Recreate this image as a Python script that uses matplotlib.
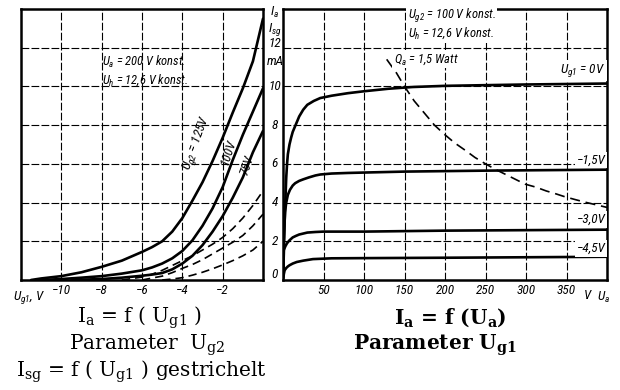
import matplotlib
matplotlib.use("Agg")
import matplotlib.pyplot as plt
from matplotlib import font_manager as fm
import matplotlib.transforms as mtrans

# ---------------- data ----------------
# Left panel: Ia = f(Ug1), parameter Ug2 (solid), Isg dashed
ug1_125 = [-11.5, -11, -10, -9, -8, -7, -6, -5.5, -5, -4.5, -4, -3.5, -3, -2.5, -2, -1.5, -1, -0.5, 0]
ia_125 = [0, 0.08, 0.2, 0.4, 0.68, 1.0, 1.45, 1.7, 2.0, 2.5, 3.2, 4.1, 5.05, 6.15, 7.35, 8.65, 9.9, 11.3, 13.5]
ug1_100 = [-11, -10, -9, -8, -7, -6, -5.5, -5, -4.5, -4, -3.5, -3, -2.5, -2, -1.5, -1, -0.5, 0]
ia_100 = [0, 0.05, 0.12, 0.2, 0.33, 0.5, 0.65, 0.85, 1.12, 1.5, 2.05, 2.8, 3.7, 4.8, 6.2, 7.5, 8.7, 9.9]
ug1_75 = [-9.5, -8, -7, -6, -5.5, -5, -4.5, -4, -3.5, -3, -2.5, -2, -1.5, -1, -0.5, 0]
ia_75 = [0, 0.05, 0.12, 0.22, 0.28, 0.36, 0.55, 0.85, 1.25, 1.8, 2.5, 3.3, 4.25, 5.3, 6.6, 7.7]
ug1_sg125 = [-7, -6, -5.5, -5, -4.5, -4, -3.5, -3, -2.5, -2, -1.5, -1, -0.5, 0]
isg_125 = [0, 0.15, 0.3, 0.5, 0.75, 1.0, 1.25, 1.55, 1.85, 2.2, 2.65, 3.2, 3.85, 4.6]
ug1_sg100 = [-6, -5.5, -5, -4.5, -4, -3.5, -3, -2.5, -2, -1.5, -1, -0.5, 0]
isg_100 = [0, 0.1, 0.2, 0.38, 0.6, 0.8, 1.05, 1.35, 1.65, 1.95, 2.3, 2.8, 3.4]
ug1_sg75 = [-5, -4.5, -4, -3.5, -3, -2.5, -2, -1.5, -1, -0.5, 0]
isg_75 = [0, 0.05, 0.12, 0.25, 0.4, 0.58, 0.78, 1.0, 1.25, 1.55, 2.0]

# Right panel: Ia = f(Ua), parameter Ug1
ua_0 = [0.5, 1, 2, 3, 4, 5, 6, 8, 10, 12, 15, 20, 25, 30, 38, 46, 60, 80, 100, 130, 160, 200, 300, 400]
ia_0 = [0.3, 1.5, 3.0, 4.2, 5.3, 6.0, 6.5, 7.0, 7.35, 7.65, 7.95, 8.45, 8.8, 9.05, 9.25, 9.4,
        9.52, 9.65, 9.75, 9.88, 9.97, 10.03, 10.1, 10.15]
ua_m15 = [0.5, 1, 2.5, 4, 6, 8.6, 12, 15, 20, 25, 32, 40, 46, 60, 80, 99, 150, 250, 400]
ia_m15 = [0.3, 2.0, 3.5, 4.0, 4.4, 4.66, 4.88, 5.0, 5.12, 5.2, 5.3, 5.4, 5.45, 5.5, 5.53,
          5.55, 5.6, 5.65, 5.7]
ua_m30 = [0.5, 1, 3, 5, 8, 12, 16, 20, 25, 30, 40, 50, 100, 200, 400]
ia_m30 = [0.3, 1.55, 1.75, 1.9, 2.05, 2.2, 2.28, 2.35, 2.4, 2.45, 2.48, 2.5, 2.5, 2.55, 2.6]
ua_m45 = [0.5, 1, 2, 4, 6, 8, 12, 17, 25, 37, 60, 100, 200, 400]
ia_m45 = [0.1, 0.3, 0.5, 0.62, 0.7, 0.76, 0.85, 0.93, 1.0, 1.08, 1.12, 1.13, 1.15, 1.2]
ua_qa = [128, 140, 150, 162, 175, 187, 200, 212, 225, 237, 250, 262, 275, 287, 299, 312,
         325, 337, 348, 362, 375, 387, 400]
ia_qa = [11.4, 10.7, 10.0, 9.25, 8.6, 8.0, 7.5, 7.08, 6.7, 6.33, 6.0, 5.72, 5.45, 5.2,
         4.95, 4.8, 4.6, 4.45, 4.3, 4.14, 4.0, 3.88, 3.75]

left_xticks = [-10, -8, -6, -4, -2]
left_xticklabels = ["−10", "−8", "−6", "−4", "−2"]
right_xticks = [50, 100, 150, 200, 250, 300, 350]
right_xticklabels = ["50", "100", "150", "200", "250", "300", "350"]
y_grid = [2, 4, 6, 8, 10, 12]
y_ticklabels = ["0", "2", "4", "6", "8", "10", "12"]
y_tickvals = [0.3, 2, 4, 6, 8, 10, 12.2]

# ---------------- fonts ----------------
names = {f.name for f in fm.fontManager.ttflist}
HAND = "DejaVu Sans"
for cand in ["Liberation Sans Narrow", "Roboto Condensed", "DejaVu Sans Condensed"]:
    if cand in names:
        HAND = cand
        break
SERIF = "DejaVu Serif"
plt.rcParams["font.family"] = HAND

hand = dict(family=HAND, style="italic", color="black")

fig = plt.figure(figsize=(6.2, 3.9), dpi=100)
fig.patch.set_facecolor("white")
axL = fig.add_axes([21 / 620, 110 / 390, 242 / 620, 271 / 390])
axR = fig.add_axes([283 / 620, 110 / 390, 324 / 620, 271 / 390])

grid_kw = dict(color="black", lw=0.8, ls=(0, (7, 2)), zorder=1)
for ax in (axL, axR):
    for s in ax.spines.values():
        s.set_linewidth(1.8)
    ax.set_ylim(0, 14)
    ax.tick_params(length=0)
    ax.set_yticks([])
    for y in y_grid:
        ax.axhline(y, **grid_kw)

TS = 9.5   # tick label size
LS = 9.0   # annotation size

# ---- left panel ----
axL.set_xlim(-12, 0)
for x in left_xticks:
    axL.axvline(x, **grid_kw)
axL.set_xticks(left_xticks)
axL.set_xticklabels(left_xticklabels, fontsize=TS, fontstyle="italic", family=HAND)
axL.tick_params(axis="x", pad=3)
solid_kw = dict(color="black", lw=1.9, zorder=3, solid_capstyle="round", solid_joinstyle="round")
dash_kw = dict(color="black", lw=1.2, ls=(0, (5, 3)), zorder=3)
axL.plot(ug1_125, ia_125, **solid_kw)
axL.plot(ug1_100, ia_100, **solid_kw)
axL.plot(ug1_75, ia_75, **solid_kw)
axL.plot(ug1_sg125, isg_125, **dash_kw)
axL.plot(ug1_sg100, isg_100, **dash_kw)
axL.plot(ug1_sg75, isg_75, **dash_kw)

axL.text(-8.0, 11.25, r"U$_\mathregular{a}$ = 200 V konst.", fontsize=LS, va="center", **hand)
axL.text(-8.0, 10.3, r"U$_\mathregular{h}$ = 12,6 V konst.", fontsize=LS, va="center", **hand)
axL.text(-3.3, 7.1, r"U$_\mathregular{g2}$ = 125V", fontsize=9.5, rotation=70,
         ha="center", va="center", **hand)
axL.text(-1.75, 6.6, "100V", fontsize=9.5, rotation=72, ha="center", va="center", **hand)
axL.text(-0.8, 5.9, "75V", fontsize=9.5, rotation=72, ha="center", va="center", **hand)
tL = mtrans.blended_transform_factory(axL.transData, axL.transAxes)
axL.text(-10.8, -0.035, r"U$_\mathregular{g1}$, V", fontsize=TS, ha="right", va="top",
         transform=tL, **hand)

# ---- right panel ----
axR.set_xlim(0, 400)
for x in right_xticks:
    axR.axvline(x, **grid_kw)
axR.set_xticks(right_xticks)
axR.set_xticklabels(right_xticklabels, fontsize=TS, fontstyle="italic", family=HAND)
axR.tick_params(axis="x", pad=3)
axR.plot(ua_0, ia_0, **solid_kw)
axR.plot(ua_m15, ia_m15, **solid_kw)
axR.plot(ua_m30, ia_m30, **solid_kw)
axR.plot(ua_m45, ia_m45, **solid_kw)
axR.plot(ua_qa, ia_qa, color="black", lw=1.2, ls=(0, (6, 3.5)), zorder=3)

tR = mtrans.blended_transform_factory(axR.transData, axR.transAxes)
axR.text(376, -0.035, "V", fontsize=TS, ha="center", va="top", transform=tR, **hand)
axR.text(396, -0.035, r"U$_\mathregular{a}$", fontsize=TS, ha="center", va="top",
         transform=tR, **hand)

wb = dict(boxstyle="square,pad=0.15", fc="white", ec="none")
axR.text(154, 13.65, r"U$_\mathregular{g2}$ = 100 V konst.", fontsize=LS, va="center",
         zorder=4, bbox=wb, **hand)
axR.text(154, 12.75, r"U$_\mathregular{h}$ = 12,6 V konst.", fontsize=LS, va="center",
         zorder=4, bbox=wb, **hand)
axR.text(137, 11.4, r"Q$_\mathregular{a}$ = 1,5 Watt", fontsize=LS, va="center",
         zorder=4, bbox=wb, **hand)
for y, lab in [(10.8, r"U$_\mathregular{g1}$ = 0V"), (6.2, "−1,5V"),
               (3.15, "−3,0V"), (1.65, "−4,5V")]:
    axR.text(398, y, lab, fontsize=9.5, ha="right", va="center", zorder=4, bbox=wb, **hand)

# shared y tick labels between the panels
tY = mtrans.blended_transform_factory(axR.transAxes, axR.transData)
for v, lab in zip(y_tickvals, y_ticklabels):
    axR.text(-0.025, v, lab, fontsize=TS, ha="center", va="center", transform=tY,
             clip_on=False, **hand)
axR.text(-0.025, 11.3, "mA", fontsize=TS, ha="center", va="center", transform=tY,
         clip_on=False, **hand)
axR.text(-0.025, 12.95, r"I$_\mathregular{sg}$", fontsize=TS, ha="center", va="center",
         transform=tY, clip_on=False, **hand)
axR.text(-0.025, 13.8, r"I$_\mathregular{a}$", fontsize=TS, ha="center", va="center",
         transform=tY, clip_on=False, **hand)

# ---- captions ----
cap = dict(family=SERIF, fontsize=14.5, ha="center", va="center")
fig.text(140 / 620, 1 - 318 / 390, r"I$_\mathregular{a}$ = f ( U$_\mathregular{g1}$ )", **cap)
fig.text(147 / 620, 1 - 345 / 390, r"Parameter  U$_\mathregular{g2}$", **cap)
fig.text(141 / 620, 1 - 372 / 390, r"I$_\mathregular{sg}$ = f ( U$_\mathregular{g1}$ ) gestrichelt", **cap)
fig.text(450 / 620, 1 - 318 / 390, r"I$_\mathregular{a}$ = f (U$_\mathregular{a}$)",
         fontweight="bold", **cap)
fig.text(435 / 620, 1 - 345 / 390, r"Parameter U$_\mathregular{g1}$", fontweight="bold", **cap)

fig.savefig("out.png", dpi=100, facecolor="white")
